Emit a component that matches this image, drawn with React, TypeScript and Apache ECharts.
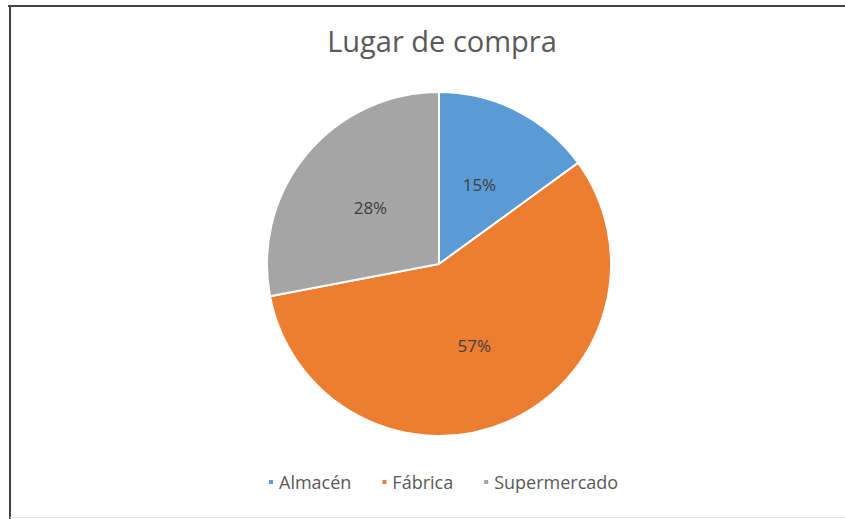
import React, { useEffect, useRef } from "react";
import * as echarts from "echarts";

const categories = ["Almacén", "Fábrica", "Supermercado"];
const values = [15, 57, 28];
const colors = ["#5B9BD5", "#ED7D31", "#A5A5A5"];
const title = "Lugar de compra";

export default function App() {
  const ref = useRef<HTMLDivElement>(null);
  useEffect(() => {
    if (!ref.current) return;
    const chart = echarts.init(ref.current, undefined, { renderer: "svg" });
    chart.setOption({
      animation: false,
      backgroundColor: "#ffffff",
      title: {
        text: title,
        left: 437,
        top: 21,
        textAlign: "center",
        textStyle: {
          fontFamily: "Open Sans",
          fontSize: 29,
          fontWeight: "normal",
          color: "#595959",
        },
      },
      legend: {
        bottom: 23,
        left: 262,
        itemWidth: 6,
        itemHeight: 6,
        itemGap: 29,
        icon: "rect",
        textStyle: { fontFamily: "Open Sans", fontSize: 18, color: "#595959" },
        data: categories,
      },
      graphic: [
        { type: "line", shape: { x1: 8, y1: 6, x2: 845, y2: 6 }, style: { stroke: "#444", lineWidth: 2 } },
        { type: "line", shape: { x1: 10, y1: 5, x2: 10, y2: 519 }, style: { stroke: "#444", lineWidth: 2 } },
        { type: "line", shape: { x1: 10, y1: 517.5, x2: 845, y2: 517.5 }, style: { stroke: "#e6e6e6", lineWidth: 1 } },
      ],
      series: [
        {
          type: "pie",
          center: [439, 264],
          radius: 172,
          startAngle: 90,
          clockwise: true,
          itemStyle: { borderColor: "#ffffff", borderWidth: 2 },
          label: {
            position: "inside",
            formatter: "{d}%",
            fontFamily: "Open Sans",
            fontSize: 17,
            color: "#404040",
          },
          labelLine: { show: false },
          data: categories.map((c, i) => ({ name: c, value: values[i], itemStyle: { color: colors[i] } })),
        },
      ],
    });
    return () => chart.dispose();
  }, []);
  return <div ref={ref} style={{ position: "fixed", left: 0, top: 0, width: 845, height: 519 }} />;
}
